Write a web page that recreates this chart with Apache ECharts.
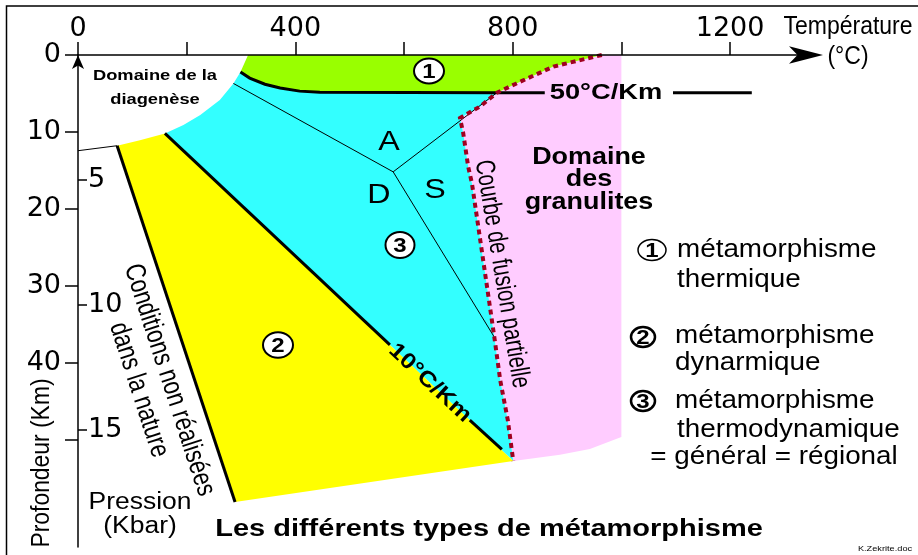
<!DOCTYPE html>
<html>
<head>
<meta charset="utf-8">
<script src="https://cdn.jsdelivr.net/npm/echarts@6/dist/echarts.min.js"></script>
<style>
html,body{margin:0;padding:0;background:#fff;}
#chart{width:918px;height:555px;}
</style>
</head>
<body>
<div id="chart"></div>
<script>
// ---------- data (temperature °C, depth km) ----------
const xTickValues = [0, 200, 400, 600, 800, 1000, 1200];
const xLabelValues = [0, 400, 800, 1200];
const depthTickValues = [0, 10, 20, 30, 40, 50];
const depthLabelValues = [0, 10, 20, 30, 40];
const pressureValues = [5, 10, 15];

const diagenesisCurve = [[313, 0], [299, 2.2], [286, 3.7], [261, 5.85], [225, 7.8], [194, 9.1], [160, 10.2], [114, 11.1], [72, 11.8], [0, 12.45]];
const meltingCurve = [[964, 0], [875, 1.5], [807, 3.7], [771, 4.9], [740, 6.7], [703, 8.2], [709, 10.2], [718, 14.5], [725, 16.7], [743, 25.4], [767, 37.1], [777, 42.3], [791, 47.5], [801, 52.8]];
const gradient50 = [[299, 2.2], [316, 3.0], [344, 3.8], [372, 4.3], [408, 4.7], [445, 4.85], [771, 4.9], [859, 4.9]];
const gradient50Tail = [[1095, 4.9], [1240, 4.9]];
const gradient10 = [[160, 10.2], [801, 52.8]];
const gradient10Part1 = [[160, 10.2], [574, 37.7]];
const gradient10Part2 = [[721, 47.5], [780, 51.3]];
const conditionsLine = [[72, 11.8], [289, 58.15]];
const granuliteBottom = [[887, 52.0], [942, 51.25], [1000, 49.7], [1000, 0]];
const facieslineA = [[286, 3.7], [580, 15.2]];
const facieslineB = [[580, 15.2], [771, 4.9]];
const facieslineC = [[580, 15.2], [767, 36.8]];

// ---------- polygons built from the curves ----------
const i50 = meltingCurve.findIndex(p => p[0] === 771 && p[1] === 4.9);
const g50end = gradient50.findIndex(p => p[0] === 771);
const greenPoly = [[313, 0], [964, 0]]
  .concat(meltingCurve.slice(1, i50 + 1))
  .concat(gradient50.slice(0, g50end).reverse());
const cyanPoly = gradient50.slice(0, g50end + 1)
  .concat(meltingCurve.slice(i50 + 1))
  .concat([gradient10[0]])
  .concat(diagenesisCurve.slice(2, 6).reverse());
const yellowPoly = [diagenesisCurve[8], diagenesisCurve[7], gradient10[0], gradient10[1], conditionsLine[1]];
const pinkPoly = meltingCurve.slice().concat(granuliteBottom);
const diagenesisBase = diagenesisCurve.slice(8);

function shape(kind, pts, z, style) {
  return {
    type: 'custom', coordinateSystem: 'cartesian2d', z: z, silent: true,
    clip: false, data: [[0, 0]],
    renderItem: function (params, api) {
      return { type: kind, shape: { points: pts.map(p => api.coord(p)) }, style: style };
    }
  };
}

const F = "'Liberation Sans', Arial, sans-serif";
function T(text, x, y, o) {
  o = o || {};
  return {
    type: 'text', x: x, y: y, z: 100,
    rotation: (o.rot || 0) * Math.PI / 180,
    scaleX: o.sx || 1, scaleY: o.sy || 1,
    style: {
      text: text, fill: '#000', fontSize: o.size || 20, fontFamily: o.family || F,
      fontWeight: o.bold ? 'bold' : 'normal',
      textAlign: o.align || 'center', align: o.align || 'center',
      textVerticalAlign: 'middle', verticalAlign: 'middle',
      lineHeight: o.lh || undefined
    }
  };
}
function C(num, cx, cy, rx, ry, lw, fs) {
  return [
    { type: 'ellipse', z: 99, shape: { cx: cx, cy: cy, rx: rx, ry: ry }, style: { fill: '#fff', stroke: '#000', lineWidth: lw } },
    T(num, cx, cy + 1, { size: fs || 20, bold: true, sx: 1.2 })
  ];
}

const chart = echarts.init(document.getElementById('chart'));
const numFont = 'DejaVu Sans';
const plain = v => String(v);
chart.setOption({
  animation: false,
  backgroundColor: '#fff',
  grid: { left: 78, right: 101, top: 55, bottom: 8, containLabel: false, outerBoundsMode: 'none' },
  xAxis: {
    type: 'value', position: 'top', min: 0, max: 1360, z: 10,
    axisLine: { show: true, onZero: false, symbol: ['none', 'arrow'], symbolSize: [13, 34], symbolOffset: [0, 6], lineStyle: { color: '#000', width: 1.5 } },
    axisTick: { show: true, length: 13, customValues: xTickValues, lineStyle: { color: '#000', width: 1.5 } },
    axisLabel: { customValues: xLabelValues, formatter: plain, fontSize: 27, fontFamily: numFont, color: '#000', margin: 13 },
    splitLine: { show: false }
  },
  yAxis: [{
    type: 'value', inverse: true, min: 0, max: 64, position: 'left', z: 10,
    axisLine: { show: true, onZero: false, symbol: ['none', 'arrow'], symbolSize: [9, 14], lineStyle: { color: '#000', width: 1.5 } },
    axisTick: { show: true, length: 13, customValues: depthTickValues, lineStyle: { color: '#000', width: 1.5 } },
    axisLabel: { customValues: depthLabelValues, formatter: plain, fontSize: 27, fontFamily: numFont, color: '#000', margin: 17 },
    splitLine: { show: false }
  }, {
    type: 'value', inverse: true, min: 0, max: 19.68, position: 'left', offset: 0, z: 10,
    axisLine: { show: false },
    axisTick: { show: true, inside: true, length: 9, customValues: pressureValues, lineStyle: { color: '#000', width: 1.5 } },
    axisLabel: { inside: true, customValues: pressureValues, formatter: plain, fontSize: 27, fontFamily: numFont, color: '#000', margin: 10 },
    splitLine: { show: false }
  }],
  series: [
    shape('polygon', pinkPoly, 1, { fill: '#ffccff' }),
    shape('polygon', cyanPoly, 1, { fill: '#33ffff' }),
    shape('polygon', yellowPoly, 1, { fill: '#ffff00' }),
    shape('polygon', greenPoly, 1, { fill: '#99ff00' }),
    shape('polyline', diagenesisBase, 3, { stroke: '#000', lineWidth: 1, fill: null }),
    shape('polyline', facieslineA, 3, { stroke: '#000', lineWidth: 1, fill: null }),
    shape('polyline', facieslineB, 3, { stroke: '#000', lineWidth: 1, fill: null }),
    shape('polyline', facieslineC, 3, { stroke: '#000', lineWidth: 1, fill: null }),
    shape('polyline', gradient50, 4, { stroke: '#000', lineWidth: 3, fill: null }),
    shape('polyline', gradient50Tail, 4, { stroke: '#000', lineWidth: 3, fill: null }),
    shape('polyline', gradient10Part1, 4, { stroke: '#000', lineWidth: 3, fill: null }),
    shape('polyline', gradient10Part2, 4, { stroke: '#000', lineWidth: 3, fill: null }),
    shape('polyline', conditionsLine, 4, { stroke: '#000', lineWidth: 3, fill: null }),
    shape('polyline', meltingCurve, 5, { stroke: '#a00020', lineWidth: 4, fill: null, lineDash: [5, 4], lineCap: 'butt' })
  ],
  graphic: [
    { type: 'rect', z: 100, shape: { x: 6.5, y: 6, width: 930, height: 580 }, style: { fill: null, stroke: '#000', lineWidth: 1.5 } },
    T('Température', 848, 27, { size: 25, sx: 0.92 }),
    T('(°C)', 848, 57, { size: 25, sx: 0.92 }),
    T('Domaine de la', 155, 76, { size: 15, bold: true, sx: 1.22 }),
    T('diagenèse', 155, 100, { size: 15, bold: true, sx: 1.22 }),
    T('50°C/Km', 606, 93, { size: 22, bold: true, sx: 1.24 }),
    T('A', 389, 142, { size: 28, sx: 1.15 }),
    T('D', 379, 195, { size: 28, sx: 1.15 }),
    T('S', 435, 190, { size: 28, sx: 1.15 }),
    T('Domaine', 589, 158, { size: 23, bold: true, sx: 1.17 }),
    T('des', 589, 180, { size: 23, bold: true, sx: 1.17 }),
    T('granulites', 589, 203, { size: 23, bold: true, sx: 1.17 }),
    T('Courbe de fusion partielle', 502, 274, { size: 27, sx: 0.75, rot: -80.5 }),
    T('10°C/Km', 430, 383, { size: 22, bold: true, sx: 1.15, rot: -43 }),
    T('Conditions non réalisées\ndans la nature', 154, 385, { size: 28, sx: 0.79, rot: -72, lh: 32 }),
    T('Profondeur (Km)', 42, 463, { size: 26, sx: 0.88, rot: 90 }),
    T('Pression', 140, 503, { size: 23, sx: 1.15 }),
    T('(Kbar)', 140, 527, { size: 23, sx: 1.15 }),
    T('Les différents types de métamorphisme', 489, 530, { size: 23, bold: true, sx: 1.26 }),
    T('K.Zekrite.doc', 885, 549, { size: 8, sx: 1.15 }),
    T('métamorphisme', 677, 250, { size: 26, sx: 1.07, align: 'left' }),
    T('thermique', 677, 280, { size: 26, sx: 1.07, align: 'left' }),
    T('métamorphisme', 675, 336, { size: 26, sx: 1.07, align: 'left' }),
    T('dynarmique', 675, 363, { size: 26, sx: 1.07, align: 'left' }),
    T('métamorphisme', 675, 401, { size: 26, sx: 1.07, align: 'left' }),
    T('thermodynamique', 677, 430, { size: 26, sx: 1.07, align: 'left' }),
    T('= général = régional', 774, 457, { size: 26, sx: 1.07 })
  ].concat(
    C('1', 429, 71, 15, 12.5, 2),
    C('2', 278, 345, 15, 12.8, 2),
    C('3', 400, 245, 14.5, 13, 2),
    C('1', 652, 250, 14, 10.5, 1.5),
    C('2', 643, 337, 12, 10, 2.5),
    C('3', 643, 401, 12, 10, 2.5)
  )
});
</script>
</body>
</html>
